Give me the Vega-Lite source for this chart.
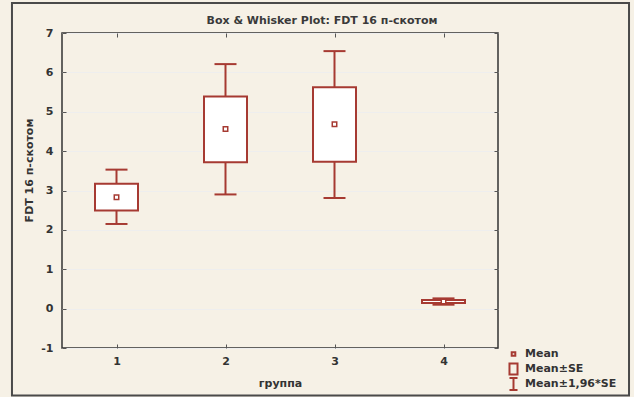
{
  "$schema": "https://vega.github.io/schema/vega-lite/v6.json",
  "width": 436,
  "height": 315,
  "autosize": {"type": "none"},
  "padding": {"left": 62, "top": 33, "right": 136, "bottom": 49},
  "background": "#f6f1e6",
  "title": {
    "text": "Box & Whisker Plot: FDT 16 п-скотом",
    "font": "DejaVu Sans",
    "fontSize": 11,
    "fontWeight": "bold",
    "color": "#3a3a3a",
    "anchor": "middle",
    "offset": -24,
    "dx": 42
  },
  "config": {
    "view": {"fill": "white", "stroke": "#333333", "strokeWidth": 1.5},
    "axis": {
      "labelFont": "DejaVu Sans",
      "labelFontSize": 11,
      "labelFontWeight": "bold",
      "labelColor": "#333333",
      "titleFont": "DejaVu Sans",
      "titleFontSize": 11,
      "titleFontWeight": "bold",
      "titleColor": "#333333",
      "tickColor": "#555555",
      "domain": false
    },
    "legend": {
      "labelFont": "DejaVu Sans",
      "labelFontSize": 11,
      "labelFontWeight": "bold",
      "labelColor": "#333333"
    }
  },
  "datasets": {
    "groups": [
      {"group": 1, "mean": 2.83, "se_lo": 2.49, "se_hi": 3.17, "ci_lo": 2.15, "ci_hi": 3.53},
      {"group": 2, "mean": 4.56, "se_lo": 3.72, "se_hi": 5.39, "ci_lo": 2.90, "ci_hi": 6.21},
      {"group": 3, "mean": 4.68, "se_lo": 3.73, "se_hi": 5.62, "ci_lo": 2.81, "ci_hi": 6.54},
      {"group": 4, "mean": 0.18, "se_lo": 0.14, "se_hi": 0.22, "ci_lo": 0.10, "ci_hi": 0.26}
    ],
    "legend_items": [
      {"item": "Mean"},
      {"item": "Mean±SE"},
      {"item": "Mean±1,96*SE"}
    ]
  },
  "data": {"name": "groups"},
  "resolve": {"axis": {"x": "independent", "y": "independent"}},
  "layer": [
    {
      "description": "outer window frame",
      "data": {"values": [{}]},
      "mark": {"type": "rect", "fillOpacity": 0, "stroke": "#4a4a4a", "strokeWidth": 2, "clip": false},
      "encoding": {
        "x": {"datum": 0.041, "type": "quantitative", "axis": null,
              "scale": {"domain": [0.5, 4.5], "nice": false, "zero": false, "padding": 0}},
        "x2": {"datum": 5.702},
        "y": {"datum": 7.762, "type": "quantitative", "axis": null,
              "scale": {"domain": [-1, 7], "nice": false, "zero": false, "padding": 0}},
        "y2": {"datum": -2.206}
      }
    },
    {
      "description": "whiskers: mean ± 1.96*SE",
      "mark": {"type": "rule", "color": "#a63a32", "strokeWidth": 2},
      "encoding": {
        "x": {
          "field": "group", "type": "quantitative",
          "axis": {"orient": "bottom", "values": [1, 2, 3, 4], "title": "группа", "grid": false,
                   "tickSize": -4, "labelPadding": 11, "titlePadding": 11}
        },
        "y": {
          "field": "ci_lo", "type": "quantitative",
          "axis": {"orient": "left", "values": [-1, 0, 1, 2, 3, 4, 5, 6, 7], "title": "FDT 16 п-скотом",
                   "labelExpr": "datum.value",
                   "grid": true, "gridColor": "#eeeeee", "gridWidth": 1,
                   "tickSize": -4, "labelPadding": 13, "titlePadding": 6, "titleY": 137}
        },
        "y2": {"field": "ci_hi"}
      }
    },
    {
      "mark": {"type": "tick", "orient": "horizontal", "size": 22, "thickness": 2, "color": "#a63a32", "opacity": 1},
      "encoding": {
        "x": {"field": "group", "type": "quantitative", "axis": null},
        "y": {"field": "ci_lo", "type": "quantitative", "axis": null}
      }
    },
    {
      "mark": {"type": "tick", "orient": "horizontal", "size": 22, "thickness": 2, "color": "#a63a32", "opacity": 1},
      "encoding": {
        "x": {"field": "group", "type": "quantitative", "axis": null},
        "y": {"field": "ci_hi", "type": "quantitative", "axis": null}
      }
    },
    {
      "description": "boxes: mean ± SE",
      "mark": {"type": "bar", "size": 43, "fill": "white", "stroke": "#a63a32", "strokeWidth": 2},
      "encoding": {
        "x": {
          "field": "group", "type": "quantitative",
          "axis": {"orient": "top", "values": [1, 2, 3, 4], "labels": false, "title": null, "grid": false, "tickSize": -4}
        },
        "y": {
          "field": "se_lo", "type": "quantitative",
          "axis": {"orient": "right", "values": [-1, 0, 1, 2, 3, 4, 5, 6, 7], "labels": false, "title": null, "grid": false, "tickSize": -4}
        },
        "y2": {"field": "se_hi"}
      }
    },
    {
      "description": "mean markers",
      "mark": {"type": "point", "shape": "square", "size": 20, "fill": "white", "stroke": "#a63a32", "strokeWidth": 1.5, "opacity": 1},
      "encoding": {
        "x": {"field": "group", "type": "quantitative", "axis": null},
        "y": {"field": "mean", "type": "quantitative", "axis": null}
      }
    },
    {
      "description": "legend entries",
      "data": {"name": "legend_items"},
      "mark": {"type": "point", "color": "#a63a32", "filled": false, "strokeWidth": 2, "opacity": 0},
      "encoding": {
        "shape": {
          "field": "item", "type": "nominal",
          "scale": {
            "domain": ["Mean", "Mean±SE", "Mean±1,96*SE"],
            "range": [
              "M-0.3,-0.3H0.3V0.3H-0.3Z",
              "M-0.67,-0.92H0.67V0.92H-0.67Z",
              "M-0.67,-1H0.67M0,-1V1M-0.67,1H0.67"
            ]
          },
          "legend": {
            "title": null,
            "orient": "none",
            "legendX": 444.5,
            "legendY": 313.5,
            "padding": 0,
            "symbolSize": 144,
            "symbolStrokeColor": "#a63a32",
            "symbolStrokeWidth": 2,
            "symbolOpacity": 1,
            "clipHeight": 15,
            "rowPadding": 0,
            "labelOffset": 4.5
          }
        }
      }
    }
  ]
}
